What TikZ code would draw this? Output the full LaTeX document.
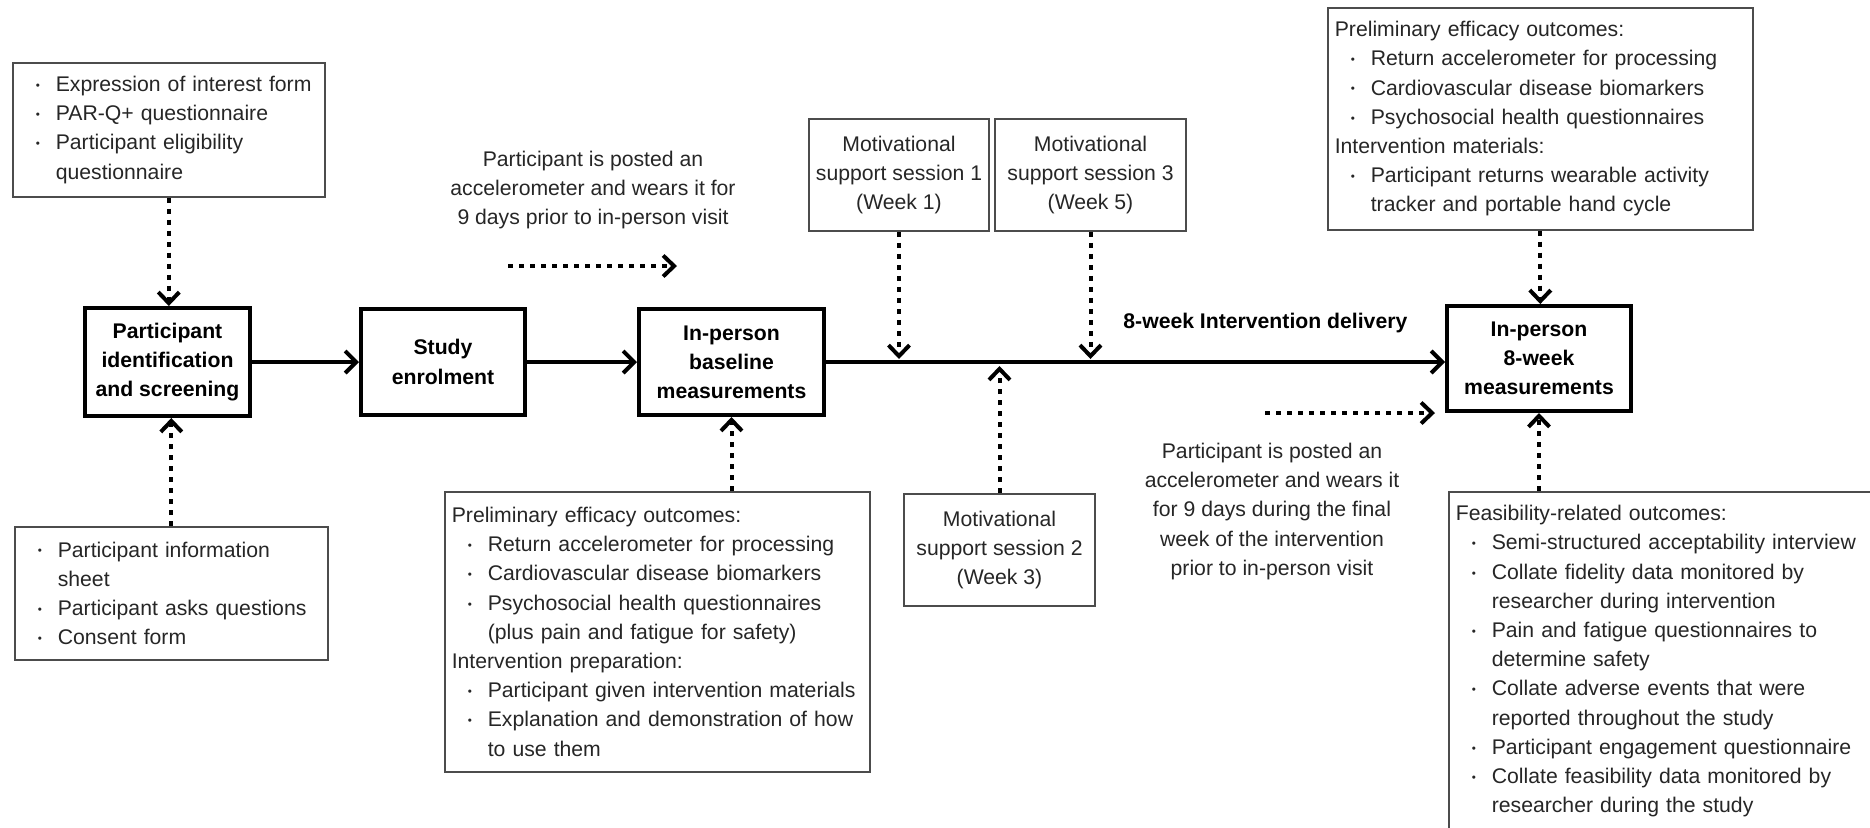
\documentclass[tikz,border=0pt]{standalone}
\usepackage{fontspec}
\setmainfont{Liberation Sans}
\usetikzlibrary{arrows.meta,calc}
\newcommand{\fsz}{\fontsize{10.6pt}{14.6pt}\selectfont}
\newcommand{\bdot}{\raisebox{0.1em}{\scalebox{0.55}{\textbullet}}}
\newcommand{\bi}{\hspace*{8pt}\makebox[10pt][l]{\bdot}}
\newcommand{\ci}{\hspace*{18pt}}
\begin{document}
\begin{tikzpicture}[x=0.5pt,y=-0.5pt,
  every node/.style={font=\fsz, text=black!85},
  mainbox/.style={draw, line width=2pt, font=\fsz\bfseries, text=black, align=center, inner sep=0pt},
  infobox/.style={draw=black!70, line width=0.8pt, align=left, inner xsep=3.5pt, inner ysep=0pt, anchor=north west},
  sessbox/.style={draw=black!70, line width=0.8pt, align=center, inner sep=0pt},
  flowarrow/.style={line width=2pt, -{Straight Barb[length=5.5pt,width=11pt]}},
  dotarrow/.style={line width=2pt, dash pattern=on 2.5pt off 3pt, -{Straight Barb[length=5.5pt,width=10.5pt]}}
]
\useasboundingbox (0,0) rectangle (1870,827);
\fill[white] (0,0) rectangle (1870,827);
\clip (0,0) rectangle (1870,827);

% main flow boxes
\node[mainbox, minimum width=82.5pt, minimum height=54pt] (pi) at (167.5,362) {Participant\\identification\\and screening};
\node[mainbox, minimum width=82pt, minimum height=53pt] (study) at (443,362) {Study\\enrolment};
\node[mainbox, minimum width=92.5pt, minimum height=53pt] (base) at (731.5,362) {In-person\\baseline\\measurements};
\node[mainbox, minimum width=92pt, minimum height=52.5pt] (wk8) at (1539,358.5) {In-person\\8-week\\measurements};

% info boxes
\node[infobox, text width=149pt, minimum height=67pt] (tl) at (12,62)
  {\bi Expression of interest form\\
   \bi PAR-Q+ questionnaire\\
   \bi Participant eligibility\\
   \ci questionnaire};
\node[infobox, text width=149.5pt, minimum height=66.5pt] (bl) at (14,526)
  {\bi Participant information\\
   \ci sheet\\
   \bi Participant asks questions\\
   \bi Consent form};
\node[infobox, text width=205.5pt, minimum height=140pt] (bb) at (444,491)
  {Preliminary efficacy outcomes:\\
   \bi Return accelerometer for processing\\
   \bi Cardiovascular disease biomarkers\\
   \bi Psychosocial health questionnaires\\
   \ci (plus pain and fatigue for safety)\\
   Intervention preparation:\\
   \bi Participant given intervention materials\\
   \bi Explanation and demonstration of how\\
   \ci to use them};
\node[infobox, text width=205.5pt, minimum height=111pt] (tr) at (1327,7)
  {Preliminary efficacy outcomes:\\
   \bi Return accelerometer for processing\\
   \bi Cardiovascular disease biomarkers\\
   \bi Psychosocial health questionnaires\\
   Intervention materials:\\
   \bi Participant returns wearable activity\\
   \ci tracker and portable hand cycle};
\node[infobox, text width=224pt, minimum height=169.5pt] (br) at (1448,491)
  {Feasibility-related outcomes:\\
   \bi Semi-structured acceptability interview\\
   \bi Collate fidelity data monitored by\\
   \ci researcher during intervention\\
   \bi Pain and fatigue questionnaires to\\
   \ci determine safety\\
   \bi Collate adverse events that were\\
   \ci reported throughout the study\\
   \bi Participant engagement questionnaire\\
   \bi Collate feasibility data monitored by\\
   \ci researcher during the study};

% session boxes
\node[sessbox, minimum width=90pt, minimum height=56pt] (s1) at (899,175) {Motivational\\support session 1\\(Week 1)};
\node[sessbox, minimum width=95.5pt, minimum height=56pt] (s3) at (1090.5,175) {Motivational\\support session 3\\(Week 5)};
\node[sessbox, minimum width=95.5pt, minimum height=56pt] (s2) at (999.5,550) {Motivational\\support session 2\\(Week 3)};

% free texts
\node[align=center] (t1) at (593,190) {Participant is posted an\\accelerometer and wears it for\\9 days prior to in-person visit};
\node[align=center] (t2) at (1272,511.5) {Participant is posted an\\accelerometer and wears it\\for 9 days during the final\\week of the intervention\\prior to in-person visit};
\node[anchor=west, font=\fsz\bfseries, text=black, inner sep=0pt] (del) at (1123,323) {8-week Intervention delivery};

\coordinate (a1s) at (508,266);
\coordinate (a1e) at (677,266);
\coordinate (a2s) at (1265,413);
\coordinate (a2e) at (1435,413);

% connectors
\draw[flowarrow] (pi.east) -- (study.west);
\draw[flowarrow] (study.east) -- (base.west);
\draw[flowarrow] (base.east) -- (base.east -| wk8.west);
\draw[dotarrow] (tl.south) -- (tl.south |- pi.north);
\draw[dotarrow] (bl.north) -- (bl.north |- pi.south);
\draw[dotarrow] (a1s) -- (a1e);
\draw[dotarrow] (s1.south) -- ($(s1.south |- base.east)+(0,-3)$);
\draw[dotarrow] (s3.south) -- ($(s3.south |- base.east)+(0,-3)$);
\draw[dotarrow] (s2.north) -- ($(s2.north |- base.east)+(0,4)$);
\draw[dotarrow] (base.south |- bb.north) -- (base.south);
\draw[dotarrow] (a2s) -- (a2e);
\draw[dotarrow] (tr.south) -- (tr.south |- wk8.north);
\draw[dotarrow] (wk8.south |- br.north) -- (wk8.south);
\end{tikzpicture}
\end{document}
